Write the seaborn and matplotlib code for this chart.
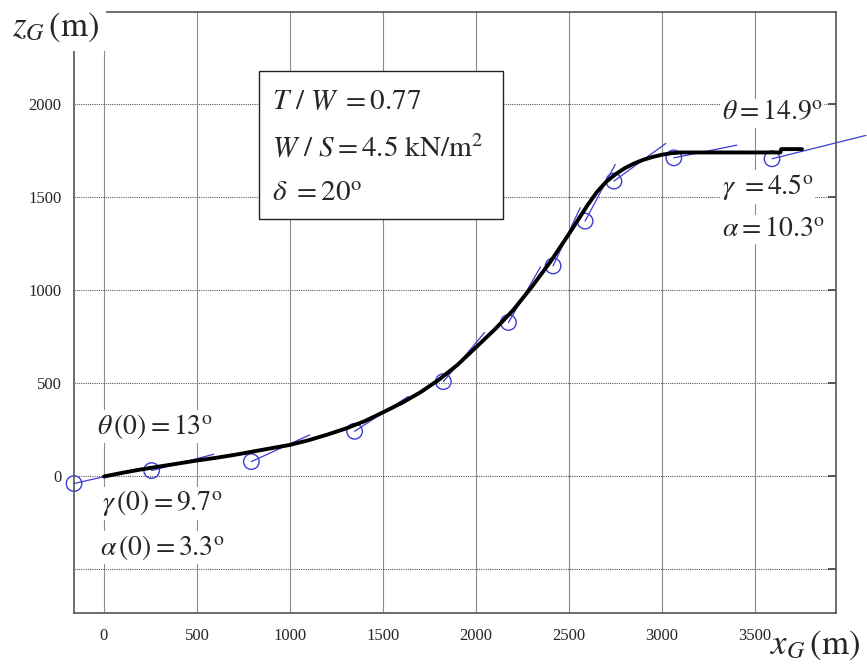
import numpy as np
import matplotlib
matplotlib.use('Agg')
import matplotlib.pyplot as plt
import seaborn as sns
from matplotlib.patches import Rectangle

# flight path x_G, z_G (m)
traj_x = [0, 100, 200, 300, 400, 500, 600, 700, 800, 900, 1000, 1100, 1200,
          1300, 1400, 1500, 1600, 1700, 1800, 1900, 2000, 2100, 2200, 2300,
          2400, 2500, 2600, 2650, 2700, 2750, 2800, 2850, 2900, 2950, 3000,
          3050, 3100, 3636, 3640, 3752]
traj_z = [0, 20, 38, 54, 70, 86, 100, 116, 134, 152, 170, 195, 225,
          258, 297, 345, 395, 452, 520, 600, 695, 790, 895, 1020,
          1155, 1305, 1460, 1530, 1585, 1625, 1658, 1683, 1703, 1718, 1730,
          1738, 1742, 1742, 1760, 1760]

# attitude markers: circle position, pitch angle (deg), body line length (m)
mark_x = [-161, 256, 792, 1347, 1824, 2174, 2414, 2586, 2741, 3063, 3591]
mark_z = [-38, 32, 80, 243, 510, 828, 1132, 1373, 1588, 1713, 1708]
mark_theta = [13, 14.7, 24.6, 33, 50, 60, 65, 62, 36, 11.4, 14]
mark_len = [345, 345, 345, 345, 345, 345, 345, 345, 345, 345, 520]

x_ticks = [0, 500, 1000, 1500, 2000, 2500, 3000, 3500]
x_tick_labels = ['0', '500', '1000', '1500', '2000', '2500', '3000', '3500']
y_ticks = [-500, 0, 500, 1000, 1500, 2000]
y_tick_labels = ['', '0', '500', '1000', '1500', '2000']

sns.set_theme(style='white')
plt.rcParams['font.family'] = ['Liberation Serif', 'DejaVu Serif']
plt.rcParams['mathtext.fontset'] = 'stix'

blue = '#3c3cd2'

fig = plt.figure(figsize=(8.67, 6.68), dpi=100)
ax = fig.add_axes([0.0854, 0.0823, 0.8789, 0.8997])

# attitude lines + circles
for x, z, th, L in zip(mark_x, mark_z, mark_theta, mark_len):
    t = np.radians(th)
    ax.plot([x, x + L * np.cos(t)], [z, z + L * np.sin(t)], color=blue,
            lw=0.9, clip_on=False, zorder=2)
sns.scatterplot(x=mark_x, y=mark_z, ax=ax, marker='o', s=125,
                facecolor='none', edgecolor=blue, linewidth=1.0,
                clip_on=False, zorder=2)

sns.lineplot(x=traj_x, y=traj_z, ax=ax, sort=False, estimator=None,
             color='black', lw=2.8, zorder=3)

ax.set_xlim(-161, 3935)
ax.set_ylim(-734, 2497)
ax.set_xticks(x_ticks)
ax.set_xticklabels(x_tick_labels)
ax.set_yticks(y_ticks)
ax.set_yticklabels(y_tick_labels)
ax.tick_params(axis='x', length=0, pad=11, labelsize=12)
ax.tick_params(axis='y', length=6, direction='in', right=True, pad=9,
               labelsize=12, color='#444444')
ax.set_xlabel('')
ax.set_ylabel('')

ax.grid(axis='x', color='#8c8c8c', lw=0.8, ls='-')
ax.grid(axis='y', color='#5a5a5a', lw=0.8, ls=(0, (1, 1)))
for s in ax.spines.values():
    s.set_color('#555555')
    s.set_linewidth(1.2)

# parameter box
ax.add_patch(Rectangle((832, 1384), 1314, 794, facecolor='white',
                       edgecolor='#222222', lw=1.0, zorder=5))
box_lines = [r'$T\ /\ W\ = 0.77$', r'$W\ /\ S = 4.5\ \mathrm{kN/m}^2$',
             r'$\delta\ = 20^{\mathrm{o}}$']
for txt, zz in zip(box_lines, [2017, 1765, 1518]):
    ax.text(901, zz, txt, fontsize=21, va='center', ha='left', zorder=6)

wbox = dict(facecolor='white', edgecolor='none', pad=1.5)
notes = [
    (-38, 268, r'$\theta\,(0) = 13^{\mathrm{o}}$'),
    (-11, -145, r'$\gamma\,(0) = 9.7^{\mathrm{o}}$'),
    (-21, -381, r'$\alpha\,(0) = 3.3^{\mathrm{o}}$'),
    (3320, 1953, r'$\theta = 14.9^{\mathrm{o}}$'),
    (3320, 1556, r'$\gamma\ = 4.5^{\mathrm{o}}$'),
    (3320, 1330, r'$\alpha = 10.3^{\mathrm{o}}$'),
]
for nx, nz, txt in notes:
    ax.text(nx, nz, txt, fontsize=20, va='center', ha='left', bbox=wbox,
            zorder=4)

fig.text(12 / 867, 1 - 27 / 668, r'$z_G\,(\mathrm{m})$', fontsize=25,
         ha='left', va='center',
         bbox=dict(facecolor='white', edgecolor='none', pad=5))
fig.text(815 / 867, 1 - 645 / 668, r'$x_G\,(\mathrm{m})$', fontsize=25,
         ha='center', va='center')

fig.savefig('out.png', dpi=100)
